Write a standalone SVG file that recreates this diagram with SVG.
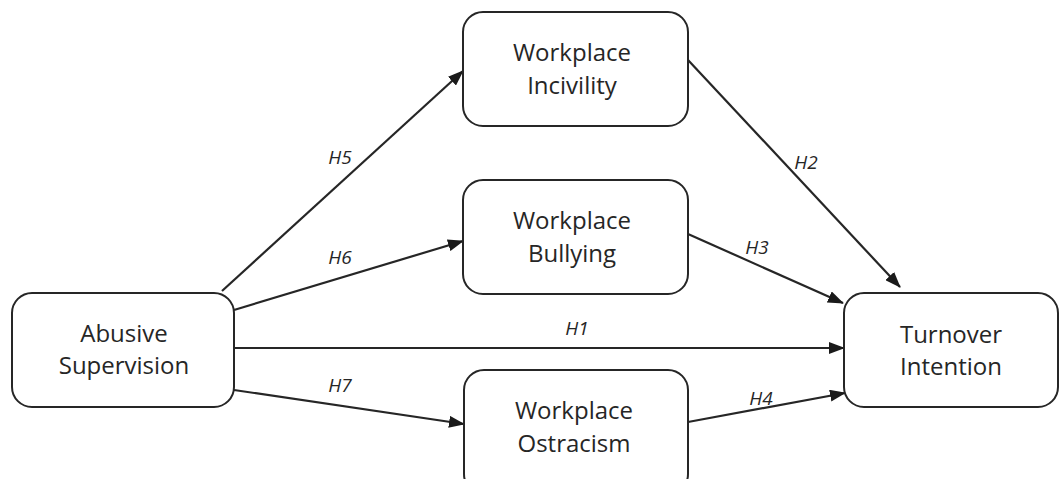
<svg xmlns="http://www.w3.org/2000/svg" width="1059" height="479" viewBox="0 0 1059 479">
<style>
.box{fill:#fff;stroke:#262626;stroke-width:2}
.lbl{font-family:"Open Sans","Noto Sans",sans-serif;font-size:24px;fill:#262626;text-anchor:middle}
.edge{stroke:#262626;stroke-width:2.2;fill:none;marker-end:url(#ah)}
.h{font-family:"Open Sans","Noto Sans",sans-serif;font-size:19px;font-style:italic;fill:#262626;text-anchor:middle}
</style>
<defs>
<marker id="ah" markerUnits="userSpaceOnUse" markerWidth="16" markerHeight="12" refX="15" refY="6" orient="auto">
<path d="M0,0 L16,6 L0,12 Z" fill="#1a1a1a"/>
</marker>
</defs>
<rect width="1059" height="479" fill="#fff"/>
<g id="connectors">
<line class="edge" x1="222" y1="291" x2="463" y2="71"/>
<line class="edge" x1="234" y1="310" x2="463" y2="241"/>
<line class="edge" x1="234" y1="348" x2="844" y2="348"/>
<line class="edge" x1="234" y1="390" x2="464" y2="424"/>
<line class="edge" x1="688" y1="60" x2="900" y2="287"/>
<line class="edge" x1="688" y1="234" x2="843" y2="303"/>
<line class="edge" x1="688" y1="422" x2="845" y2="393"/>
<text class="h" x="340" y="164">H5</text>
<text class="h" x="340" y="264">H6</text>
<text class="h" x="577" y="335">H1</text>
<text class="h" x="340" y="392">H7</text>
<text class="h" x="806" y="169">H2</text>
<text class="h" x="757" y="254">H3</text>
<text class="h" x="761" y="405">H4</text>
</g>
<g id="abusive">
<rect class="box" x="12" y="293" width="222" height="114" rx="20"/>
<text class="lbl" x="124" y="342">Abusive</text>
<text class="lbl" x="124" y="374">Supervision</text>
</g>
<g id="incivility">
<rect class="box" x="463" y="12" width="225" height="114" rx="20"/>
<text class="lbl" x="572" y="61">Workplace</text>
<text class="lbl" x="572" y="94">Incivility</text>
</g>
<g id="bullying">
<rect class="box" x="463" y="180" width="225" height="114" rx="20"/>
<text class="lbl" x="572" y="229">Workplace</text>
<text class="lbl" x="572" y="262">Bullying</text>
</g>
<g id="ostracism">
<rect class="box" x="464" y="370" width="224" height="124" rx="20"/>
<text class="lbl" x="574" y="419">Workplace</text>
<text class="lbl" x="574" y="452">Ostracism</text>
</g>
<g id="turnover">
<rect class="box" x="844" y="293" width="214" height="114" rx="20"/>
<text class="lbl" x="951" y="343">Turnover</text>
<text class="lbl" x="951" y="375">Intention</text>
</g>
</svg>
